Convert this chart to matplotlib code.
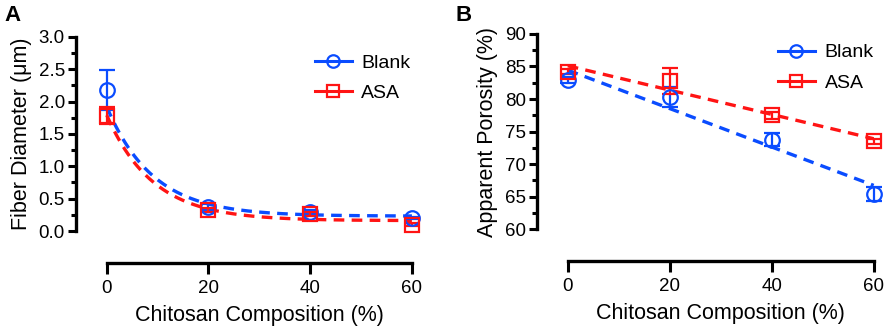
import numpy as np
import matplotlib
matplotlib.use("Agg")
import matplotlib.pyplot as plt
from matplotlib.ticker import MultipleLocator
from matplotlib.lines import Line2D

plt.rcParams['font.family'] = ['Liberation Sans', 'DejaVu Sans']

# chitosan composition (%)
comp = [0, 20, 40, 60]

# panel A: fiber diameter (um)
blank_diam = [2.18, 0.37, 0.29, 0.20]
blank_diam_err = [0.31, 0.04, 0.03, 0.02]
asa_diam = [1.78, 0.33, 0.26, 0.10]
asa_diam_err = [0.13, 0.03, 0.03, 0.03]
# one-phase decay fits: Y0, plateau, k
blank_decay = [1.92, 0.23, 0.11]
asa_decay = [1.79, 0.16, 0.11]

# panel B: apparent porosity (%)
blank_por = [82.9, 80.3, 73.7, 65.4]
blank_por_err = [0.5, 1.5, 1.0, 1.1]
asa_por = [84.2, 82.8, 77.5, 73.5]
asa_por_err = [0.4, 2.0, 0.5, 0.4]

blue = '#0A4CFF'
red = '#FF1414'

fig = plt.figure(figsize=(8.86, 3.30), dpi=100)
axA = fig.add_axes([0.0858, 0.30, 0.386, 0.588])
axB = fig.add_axes([0.606, 0.306, 0.387, 0.591])

XMIN, XMAX = -6.05, 61.2


def style(ax, ylo, yhi, major, minor):
    for s in ['top', 'right']:
        ax.spines[s].set_visible(False)
    ax.spines['left'].set_linewidth(2.4)
    ax.spines['bottom'].set_linewidth(2.4)
    ax.spines['bottom'].set_position(('outward', 23))
    ax.spines['bottom'].set_bounds(0, 60)
    ax.spines['left'].set_bounds(ylo, yhi)
    ax.set_xlim(XMIN, XMAX)
    ax.set_ylim(ylo, yhi)
    ax.set_xticks([0, 20, 40, 60])
    ax.yaxis.set_major_locator(MultipleLocator(major))
    ax.yaxis.set_minor_locator(MultipleLocator(minor))
    ax.tick_params(axis='both', which='major', width=2.2, length=6,
                   labelsize=13.5, pad=2)
    ax.tick_params(axis='y', which='minor', width=2.2, length=3.5)
    ax.tick_params(axis='x', which='major', length=8, pad=4)
    ax.set_xlabel('Chitosan Composition (%)', fontsize=15.5, labelpad=6)
    # centre the label under the 0-60 spine, not the whole axes
    ax.xaxis.label.set_x((30 - XMIN) / (XMAX - XMIN))


def points(ax, y, err, color, marker, label):
    ax.errorbar(comp, y, yerr=err, fmt=marker, mfc='none', mec=color,
                ms=10.5, mew=1.6, ecolor=color, elinewidth=1.6, capsize=5.5,
                capthick=1.6, clip_on=False, zorder=4, label=label)


def legend(ax, x, y):
    handles = [Line2D([], [], color=blue, lw=2.2, marker='o', mfc='none',
                      mec=blue, ms=9, mew=1.6),
               Line2D([], [], color=red, lw=2.2, marker='s', mfc='none',
                      mec=red, ms=9, mew=1.6)]
    ax.legend(handles, ['Blank', 'ASA'], loc='upper left',
              bbox_to_anchor=(x, y), frameon=False, fontsize=14,
              handlelength=1.9, handletextpad=0.5, labelspacing=0.65,
              borderaxespad=0)


# panel A
xs = np.linspace(0, 60, 200)
for pars, color in [(asa_decay, red), (blank_decay, blue)]:
    y0, plateau, k = pars
    axA.plot(xs, (y0 - plateau) * np.exp(-k * xs) + plateau, color=color,
             lw=2.4, dashes=(3.2, 2.2), zorder=3)
points(axA, blank_diam, blank_diam_err, blue, 'o', 'Blank')
points(axA, asa_diam, asa_diam_err, red, 's', 'ASA')
style(axA, 0, 3.0, 0.5, 0.25)
axA.set_ylabel('Fiber Diameter (\u03bcm)', fontsize=15.5, labelpad=5)
legend(axA, 0.675, 0.95)
fig.text(0.005, 0.985, 'A', fontsize=16, fontweight='bold', va='top')

# panel B: linear fits
xs2 = np.array([0, 60])
for y, color in [(asa_por, red), (blank_por, blue)]:
    slope, icpt = np.polyfit(comp, y, 1)
    axB.plot(xs2, slope * xs2 + icpt, color=color, lw=2.4,
             dashes=(3.2, 2.2), zorder=3)
points(axB, blank_por, blank_por_err, blue, 'o', 'Blank')
points(axB, asa_por, asa_por_err, red, 's', 'ASA')
style(axB, 60, 90, 5, 2.5)
axB.set_ylabel('Apparent Porosity (%)', fontsize=15.5, labelpad=5)
legend(axB, 0.68, 0.99)
fig.text(0.514, 0.985, 'B', fontsize=16, fontweight='bold', va='top')

fig.savefig('out.png', dpi=100)
